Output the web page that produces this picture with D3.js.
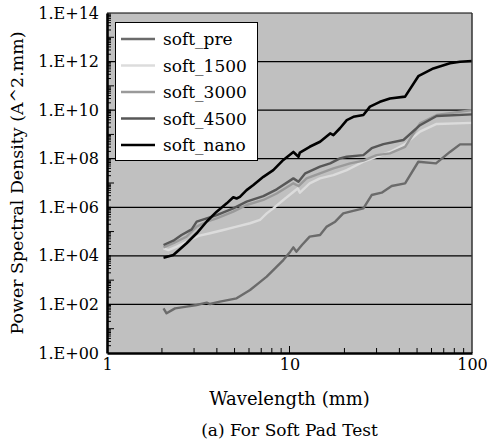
<!DOCTYPE html>
<html>
<head>
<meta charset="utf-8">
<script src="https://cdn.jsdelivr.net/npm/d3@7"></script>
<style>
  body { margin: 0; background: #fff; }
  svg { display: block; }
  svg text { font-family: "DejaVu Serif", serif; fill: #000; }
</style>
</head>
<body>
<svg id="chart" width="487" height="445"></svg>
<script>
(function () {
    'use strict';

    // series names, legend order
    var seriesNames = ['soft_pre', 'soft_1500', 'soft_3000', 'soft_4500', 'soft_nano'];

    // [wavelength (mm), PSD (A^2.mm)]
    var softPre = [[2.04,69],[2.12,43],[2.36,69],[2.73,81],[3.10,95],[3.52,118],[3.67,104],[4.16,130],
        [5.13,178],[6.08,393],[6.75,738],[7.50,1390],[8.33,3060],[9.25,6700],[10.1,14900],[10.5,22400],
        [10.9,14900],[11.7,28000],[12.9,62000],[14.7,72000],[16.0,1.6e5],[17.8,2.55e5],[19.7,5.6e5],
        [21.5,6.6e5],[25.4,9.0e5],[28.2,3.2e6],[32.0,4.0e6],[36.3,7.5e6],[43.0,9.7e6],[50.8,7.5e7],
        [63.5,6.4e7],[75.7,1.9e8],[86,3.9e8],[100,3.9e8]];

    var soft1500 = [[2.04,2.04e4],[2.17,1.74e4],[2.41,2.4e4],[2.73,3.8e4],[3.17,6.6e4],[3.67,8.5e4],
        [4.34,1.16e5],[5.13,1.6e5],[6.08,2.2e5],[6.89,3.0e5],[7.50,5.6e5],[8.15,9.0e5],[9.25,2.0e6],
        [10.7,4.8e6],[11.1,6.0e6],[11.4,4.0e6],[12.9,9.7e6],[14.7,1.55e7],[17.4,2.1e7],[20.6,3.4e7],
        [25.4,7.5e7],[30.0,1.2e8],[35.5,1.9e8],[43.0,4.0e8],[51.9,1.3e9],[64.0,2.7e9],[100,3.0e9]];

    var soft3000 = [[2.04,2.24e4],[2.31,3.3e4],[2.73,6.2e4],[3.10,1.6e5],[3.52,2.55e5],[3.99,3.5e5],
        [4.92,6.6e5],[5.82,1.24e6],[7.19,2.0e6],[8.51,3.7e6],[10.5,9.7e6],[11.2,7.5e6],[12.4,1.55e7],
        [14.7,2.5e7],[17.4,4.0e7],[21.5,6.4e7],[25.4,8.3e7],[30.0,1.4e8],[35.5,1.66e8],[43.0,3.1e8],
        [51.9,2.85e9],[64.0,6.3e9],[100,1.0e10]];

    var soft4500 = [[2.04,2.8e4],[2.31,4.2e4],[2.56,7.2e4],[2.91,1.23e5],[3.10,2.55e5],[3.52,3.5e5],
        [3.99,4.8e5],[4.92,9.0e5],[5.82,1.7e6],[7.19,2.9e6],[8.51,5.5e6],[10.5,1.55e7],[11.2,1.13e7],
        [12.2,2.5e7],[14.7,4.7e7],[16.7,6.4e7],[18.9,1.03e8],[20.6,1.2e8],[25.4,1.4e8],[28.2,2.7e8],
        [32.7,4.0e8],[42.1,5.9e8],[51.9,2.4e9],[64.0,5.7e9],[100,6.7e9]];

    var softNano = [[2.04,8.4e3],[2.31,1.08e4],[2.73,3.3e4],[3.10,8.5e4],[3.52,2.6e5],[3.99,6.6e5],
        [4.53,1.45e6],[4.92,2.6e6],[5.13,2.3e6],[5.35,2.7e6],[5.82,5.1e6],[6.34,8.3e6],[7.19,1.8e7],
        [8.15,3.4e7],[9.25,8.9e7],[10.5,1.9e8],[11.2,1.2e8],[11.4,1.8e8],[12.9,3.1e8],[14.7,5.0e8],
        [16.7,1.1e9],[17.4,9.4e8],[18.9,1.8e9],[20.6,3.9e9],[22.4,5.3e9],[25.4,6.3e9],[27.6,1.4e10],
        [31.3,2.2e10],[35.5,3.0e10],[43.0,3.6e10],[50.8,2.5e11],[61.4,5.2e11],[75.7,8.5e11],
        [86.0,9.8e11],[100,1.05e12]];

    var seriesData = [softPre, soft1500, soft3000, soft4500, softNano];

    // tick values
    var xTicks = [1, 10, 100];
    var yTicks = [1, 1e2, 1e4, 1e6, 1e8, 1e10, 1e12, 1e14];

    var colours = ['#6b6b6b', '#dcdcdc', '#9a9a9a', '#575757', '#000000'];

    var svg = d3.select('#chart');

    const margin = { top: 13, right: 15, bottom: 92, left: 107 };
    var width = 487, height = 445;

    var x = d3.scaleLog().domain([1, 100]).range([margin.left, width - margin.right]);
    var y = d3.scaleLog().domain([1, 1e14]).range([height - margin.bottom, margin.top]);

    // plot background
    svg.append('rect')
        .attr('x', x(1)).attr('y', y(1e14))
        .attr('width', x(100) - x(1)).attr('height', y(1) - y(1e14))
        .attr('fill', '#c0c0c0');

    // gridlines
    svg.selectAll('line.grid')
        .data(yTicks.slice(1, -1))
        .enter().append('line')
        .attr('class', 'grid')
        .attr('x1', x(1)).attr('x2', x(100))
        .attr('y1', d => y(d)).attr('y2', d => y(d))
        .attr('stroke', '#000').attr('stroke-width', 1.2);

    // minor ticks on y (inward)
    var yMinor = [];
    for (var e = 0; e < 14; e++) {
        for (var m = 2; m <= 10; m++) {
            var v = m * Math.pow(10, e);
            if (v < 1e14) yMinor.push(v);
        }
    }
    svg.selectAll('line.yminor')
        .data(yMinor)
        .enter().append('line')
        .attr('class', 'yminor')
        .attr('x1', x(1)).attr('x2', d => x(1) + (Math.abs(Math.log10(d) % 2 - 1) < 1e-6 ? 7 : 4))
        .attr('y1', d => y(d)).attr('y2', d => y(d))
        .attr('stroke', '#000').attr('stroke-width', 1);

    // minor ticks on x (inward)
    var xMinor = [2,3,4,5,6,7,8,9,20,30,40,50,60,70,80,90];
    svg.selectAll('line.xminor')
        .data(xMinor)
        .enter().append('line')
        .attr('class', 'xminor')
        .attr('x1', d => x(d)).attr('x2', d => x(d))
        .attr('y1', y(1)).attr('y2', y(1) - 5)
        .attr('stroke', '#000').attr('stroke-width', 1);
    svg.append('line')
        .attr('x1', x(10)).attr('x2', x(10))
        .attr('y1', y(1)).attr('y2', y(1) - 7)
        .attr('stroke', '#000').attr('stroke-width', 1);

    // series lines
    var line = d3.line().x(d => x(d[0])).y(d => y(d[1]));
    svg.selectAll('path.series')
        .data(seriesData)
        .enter().append('path')
        .attr('class', 'series')
        .attr('d', line)
        .attr('fill', 'none')
        .attr('stroke', (d, i) => colours[i])
        .attr('stroke-width', (d, i) => i == 4 ? 2.6 : 2.4)
        .attr('stroke-linejoin', 'round');

    // frame: thin top/right, thick left/bottom
    svg.append('line')
        .attr('x1', x(1)).attr('x2', x(100)).attr('y1', y(1e14)).attr('y2', y(1e14))
        .attr('stroke', '#000').attr('stroke-width', 1.2);
    svg.append('line')
        .attr('x1', x(100)).attr('x2', x(100)).attr('y1', y(1e14)).attr('y2', y(1))
        .attr('stroke', '#333').attr('stroke-width', 1.5);

    var yAxis = d3.axisLeft(y)
        .tickValues(yTicks)
        .tickSize(0)
        .tickPadding(8)
        .tickFormat(d => '1.E+' + String(Math.round(Math.log10(d))).padStart(2, '0'));

    svg.append('g')
        .attr('class', 'axis yAxis')
        .attr('transform', `translate(${x(1)},0)`)
        .call(yAxis)
        .attr('font-family', null)
        .call(g => g.select('.domain').attr('stroke', '#000').attr('stroke-width', 2.6))
        .selectAll('text')
        .attr('font-size', 16)
        .attr('fill', '#000');

    var xAxis = d3.axisBottom(x)
        .tickValues(xTicks)
        .tickSize(0)
        .tickPadding(6)
        .tickFormat(d3.format('d'));

    svg.append('g')
        .attr('class', 'axis xAxis')
        .attr('transform', `translate(0,${y(1)})`)
        .call(xAxis)
        .attr('font-family', null)
        .call(g => g.select('.domain').attr('stroke', '#000').attr('stroke-width', 2.6))
        .selectAll('text')
        .attr('font-size', 16)
        .attr('fill', '#000');

    // axis titles
    svg.append('text')
        .attr('x', (x(1) + x(100)) / 2)
        .attr('y', 405)
        .attr('text-anchor', 'middle')
        .attr('font-size', 18)
        .text('Wavelength (mm)');

    svg.append('text')
        .attr('x', (x(1) + x(100)) / 2)
        .attr('y', 436)
        .attr('text-anchor', 'middle')
        .attr('font-size', 17)
        .text('(a) For Soft Pad Test');

    svg.append('text')
        .attr('transform', `translate(23,${(y(1) + y(1e14)) / 2}) rotate(-90)`)
        .attr('text-anchor', 'middle')
        .attr('font-size', 17.4)
        .text('Power Spectral Density (A^2.mm)');

    // legend
    var legend = svg.append('g').attr('class', 'legend');
    legend.append('rect')
        .attr('x', 115.5).attr('y', 22.5)
        .attr('width', 142).attr('height', 138)
        .attr('fill', '#fff').attr('stroke', '#000').attr('stroke-width', 1);

    var items = legend.selectAll('g.item')
        .data(seriesNames)
        .enter().append('g')
        .attr('class', 'item')
        .attr('transform', (d, i) => `translate(0,${39 + i * 26.5})`);

    items.append('line')
        .attr('x1', 121).attr('x2', 155)
        .attr('stroke', (d, i) => colours[i])
        .attr('stroke-width', 2.6);

    items.append('text')
        .attr('x', 163)
        .attr('y', 6)
        .attr('font-size', 17)
        .text(d => d);
}());
</script>
</body>
</html>
